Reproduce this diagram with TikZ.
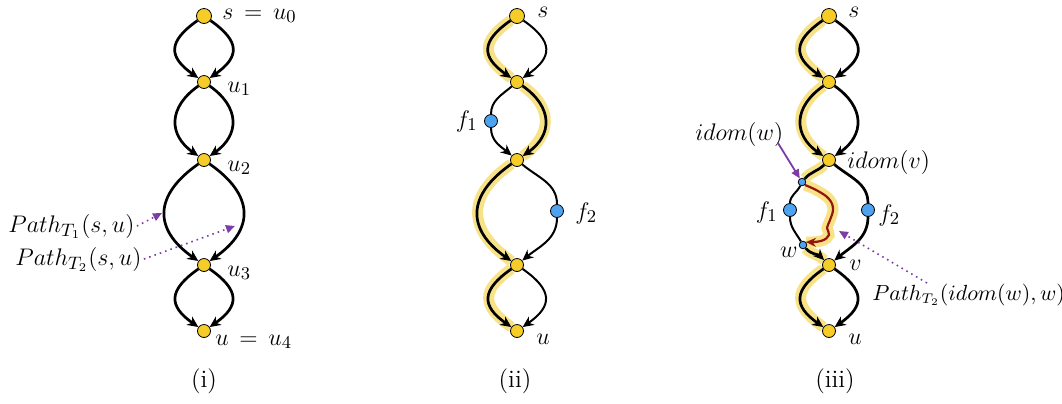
\documentclass[tikz,border=0pt]{standalone}
\usepackage{amsmath, amssymb}
\usepackage{tikz}
\usetikzlibrary{arrows.meta}
\definecolor{nodeyel}{RGB}{246,205,40}
\definecolor{nodeblu}{RGB}{77,163,240}
\definecolor{hlyel}{RGB}{248,226,135}
\definecolor{pathpur}{RGB}{125,60,165}
\definecolor{pathred}{RGB}{150,20,10}
\pgfdeclarelayer{bg}
\pgfsetlayers{bg,main}

\begin{document}
\begin{tikzpicture}[x=0.5pt, y=-0.5pt,
  every node/.style={font=\fontsize{12.5}{15}\selectfont},
  vtx/.style={circle, draw, line width=0.4pt, fill=nodeyel, inner sep=0pt, minimum size=6.5pt},
  src/.style={vtx, minimum size=7.5pt},
  fvtx/.style={vtx, fill=nodeblu},
  dvtx/.style={fvtx, minimum size=3.8pt},
  lbl/.style={inner sep=0pt},
  ln/.style={line width=1.35pt},
  thinln/.style={line width=1pt},
  tip/.style={-{Stealth[length=5.5pt,width=5pt]}},
  hl/.style={preaction={draw=hlyel, line width=5.5pt, -}},
  dotarrow/.style={pathpur, line width=0.8pt, dotted, -{Triangle[length=4.5pt,width=4pt]}},
  solarrow/.style={pathpur, line width=0.9pt, -{Triangle[length=4.5pt,width=4pt]}},
]
  \useasboundingbox (0,0) rectangle (1062,403);

  % (i)
  \node[src] (a0) at (204,16) {};
  \node[vtx] (a1) at (204,82) {};
  \node[vtx] (a2) at (204,160) {};
  \node[vtx] (a3) at (204,265) {};
  \node[vtx] (a4) at (204,331) {};
  \node[lbl, anchor=base west] (la0) at (222,19) {$s\,=\,u_0$};
  \node[lbl, anchor=base west] (la1) at (227,92) {$u_1$};
  \node[lbl, anchor=base west] (la2) at (227,171) {$u_2$};
  \node[lbl, anchor=base west] (la3) at (227,276) {$u_3$};
  \node[lbl, anchor=base west] (la4) at (215,345) {$u\,=\,u_4$};
  \node[lbl, anchor=base west] (pt1) at (8,232) {$Path_{T_1}(s,u)$};
  \node[lbl, anchor=base west] (pt2) at (15,265) {$Path_{T_2}(s,u)$};
  \coordinate (pa1) at (162,213);
  \coordinate (pa2) at (235,226);
  \node (cap1) at (204,381) {(i)};

  % (ii)
  \node[src] (b0) at (517,16) {};
  \node[vtx] (b1) at (517,82) {};
  \node[vtx] (b2) at (517,160) {};
  \node[vtx] (b3) at (517,265) {};
  \node[vtx] (b4) at (517,331) {};
  \node[fvtx] (bf1) at (491,121) {};
  \node[fvtx] (bf2) at (557,211) {};
  \node[lbl, anchor=base west] (lb0) at (537,17) {$s$};
  \node[lbl, anchor=base east] (lbf1) at (478,127) {$f_1$};
  \node[lbl, anchor=base west] (lbf2) at (575,219) {$f_2$};
  \node[lbl, anchor=base west] (lb4) at (536,344) {$u$};
  \node (cap2) at (515,381) {(ii)};

  % (iii)
  \node[src] (c0) at (829,16) {};
  \node[vtx] (c1) at (829,82) {};
  \node[vtx] (c2) at (829,160) {};
  \node[vtx] (c3) at (829,265) {};
  \node[vtx] (c4) at (829,331) {};
  \node[dvtx] (iw) at (802,182) {};
  \node[dvtx] (w) at (803,245) {};
  \node[fvtx] (cf1) at (790,210) {};
  \node[fvtx] (cf2) at (868,210) {};
  \node[lbl, anchor=base west] (lc0) at (848,17) {$s$};
  \node[lbl, anchor=base west] (lc2) at (847,168) {$idom(v)$};
  \node[lbl, anchor=base west] (liw) at (695,140) {$idom(w)$};
  \node[lbl, anchor=base east] (lcf1) at (778,218) {$f_1$};
  \node[lbl, anchor=base west] (lcf2) at (878,221) {$f_2$};
  \node[lbl, anchor=base east] (lw) at (798,257) {$w$};
  \node[lbl, anchor=base west] (lv) at (849,270) {$v$};
  \node[lbl, anchor=base west] (lc4) at (848,344) {$u$};
  \node[lbl, anchor=base west, font=\fontsize{10.6}{13}\selectfont] (pt3) at (872,300) {$Path_{T_2}(idom(w),w)$};
  \coordinate (pa3) at (927,283);
  \coordinate (pa4) at (839,231);
  \node (cap3) at (835,381) {(iii)};

  \begin{pgfonlayer}{bg}
    % (i)
    \draw[ln, tip] (a0) to[out=-145, in=145, looseness=1.63] (a1);
    \draw[ln, tip] (a0) to[out=-35, in=35, looseness=1.63] (a1);
    \draw[ln, tip] (a1) to[out=-145, in=145, looseness=1.35] (a2);
    \draw[ln, tip] (a1) to[out=-35, in=35, looseness=1.35] (a2);
    \draw[ln, tip] (a2) to[out=-145, in=145, looseness=1.45] (a3);
    \draw[ln, tip] (a2) to[out=-35, in=35, looseness=1.45] (a3);
    \draw[ln, tip] (a3) to[out=-145, in=145, looseness=1.63] (a4);
    \draw[ln, tip] (a3) to[out=-35, in=35, looseness=1.63] (a4);

    % (ii)
    \draw[ln, tip, hl] (b0) to[out=-145, in=145, looseness=1.63] (b1);
    \draw[ln, tip, hl] (b1) to[out=-35, in=35, looseness=1.35] (b2);
    \draw[ln, tip, hl] (b2) to[out=-145, in=145, looseness=1.45] (b3);
    \draw[ln, tip, hl] (b3) to[out=-145, in=145, looseness=1.63] (b4);
    \draw[thinln, tip] (b0) to[out=-35, in=35, looseness=1.63] (b1);
    \draw[thinln] (b1) to[out=-140, in=90] (bf1);
    \draw[thinln, tip] (bf1) to[out=-90, in=140] (b2);
    \draw[thinln] (b2) to[out=-40, in=90] (bf2);
    \draw[thinln, tip] (bf2) to[out=-90, in=40] (b3);
    \draw[thinln, tip] (b3) to[out=-35, in=35, looseness=1.63] (b4);

    % (iii)
    \draw[ln, tip, hl] (c0) to[out=-145, in=145, looseness=1.63] (c1);
    \draw[ln, tip, hl] (c1) to[out=-145, in=145, looseness=1.35] (c2);
    \draw[ln, hl] (c2) to[out=-135, in=50] (iw);
    \draw[ln, tip, hl] (w) to[out=-50, in=135] (c3);
    \draw[ln, tip, hl] (c3) to[out=-145, in=145, looseness=1.63] (c4);
    \draw[ln, tip] (c0) to[out=-35, in=35, looseness=1.63] (c1);
    \draw[ln, tip] (c1) to[out=-35, in=35, looseness=1.35] (c2);
    \draw[thinln] (iw) to[out=-115, in=90] (cf1);
    \draw[thinln] (cf1) to[out=-90, in=120] (w);
    \draw[ln] (c2) to[out=-40, in=90] (cf2);
    \draw[ln, tip] (cf2) to[out=-90, in=40] (c3);
    \draw[ln, tip] (c3) to[out=-35, in=35, looseness=1.63] (c4);
    \draw[pathred, line width=1.1pt, hl, -{Stealth[length=5pt,width=4.5pt]}]
      plot[smooth, tension=0.7] coordinates {(iw.south east) (818,191) (829,199)
        (833,209) (830,220) (827,228) (829,235) (821,241) (w.north east)};
  \end{pgfonlayer}

  \draw[dotarrow] ([xshift=1]pt1.east) -- (pa1);
  \draw[dotarrow] ([xshift=1]pt2.east) -- (pa2);
  \draw[solarrow] ([xshift=-3, yshift=2]liw.south east) -- (iw);
  \draw[dotarrow] (pa3) -- (pa4);
\end{tikzpicture}
\end{document}
